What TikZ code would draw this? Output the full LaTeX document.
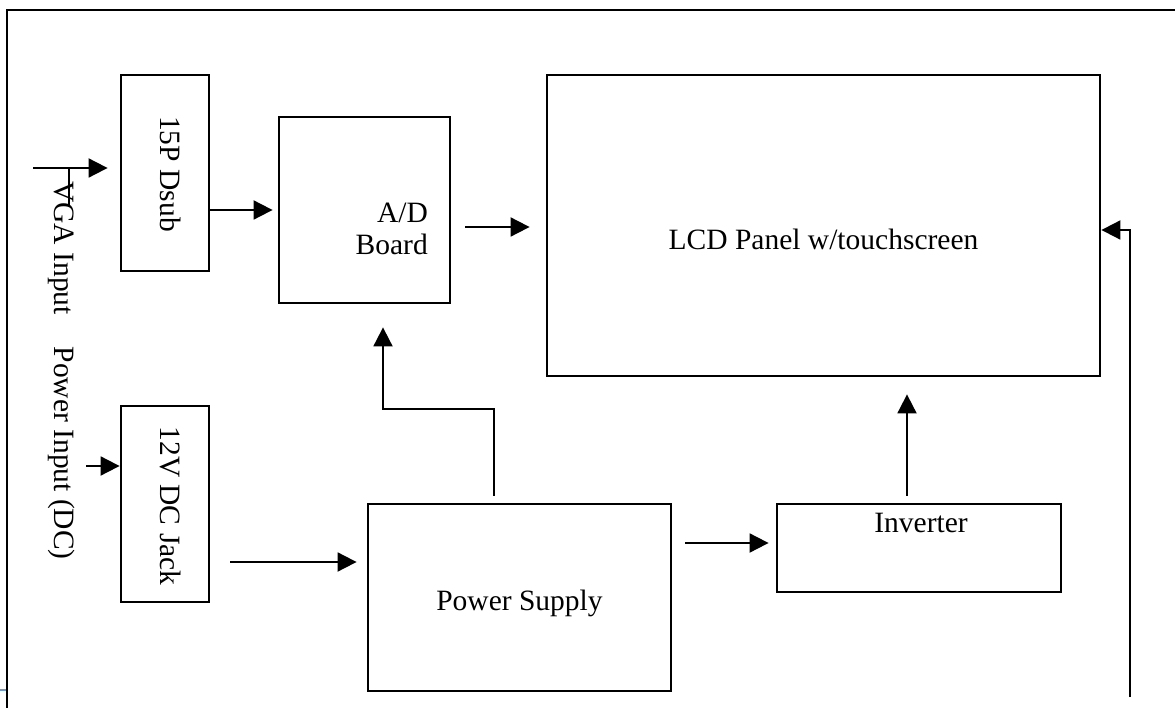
\documentclass[tikz,border=0pt]{standalone}
\usepackage{fontspec}
\setmainfont{Liberation Serif}
\usetikzlibrary{arrows.meta}
\definecolor{tickblue}{RGB}{108,153,204}
\begin{document}
\begin{tikzpicture}[x=1pt,y=-1pt,
  blk/.style={draw=black, line width=2.8pt, rectangle, inner sep=0pt},
  lbl/.style={font=\fontsize{29.5}{32}\selectfont, inner sep=0pt},
  arr/.style={line width=1.9pt, -{Triangle[length=19pt,width=19pt]}},
  wire/.style={line width=1.9pt}]
\useasboundingbox (0,0) rectangle (1175,708);
% frame
\draw[line width=2.8pt] (7,708) -- (7,10) -- (1175,10);
\draw[tickblue, line width=2pt] (0,690) -- (6,690);
% boxes
\node[blk, minimum width=88pt, minimum height=196pt] (dsub) at (165,173) {};
\node[blk, minimum width=88pt, minimum height=196pt] (jack) at (165,504) {};
\node[blk, minimum width=171pt, minimum height=186pt] (ad) at (364.5,210) {};
\node[blk, minimum width=553pt, minimum height=301pt] (lcd) at (823.5,225.5) {};
\node[blk, minimum width=303pt, minimum height=187pt] (ps) at (519.5,597.5) {};
\node[blk, minimum width=284pt, minimum height=88pt] (inv) at (919,548) {};
% labels
\node[lbl, rotate=-90, anchor=base] (dsubt) at (160,174) {15P Dsub};
\node[lbl, rotate=-90, anchor=base] (jackt) at (160,506) {12V DC Jack};
\node[lbl, rotate=-90, anchor=base west] (inputs) at (54,181) {VGA Input\hspace{32pt}Power Input (DC)};
\node[lbl, anchor=base east] (adt1) at (428,223) {A/D};
\node[lbl, anchor=base east] (adt2) at (428,255) {Board};
\node[lbl, anchor=base] (lcdt) at (823.5,250) {LCD Panel w/touchscreen};
\node[lbl, anchor=base] (pst) at (519.5,610) {Power Supply};
\node[lbl, anchor=base] (invt) at (921,532) {Inverter};
% free ends
\coordinate (vgain) at (33,168);
\coordinate (pwrin) at (86,466);
\coordinate (fb) at (1130,697);
% connectors
\draw[arr, shorten >=12pt] (vgain) -- (vgain -| dsub.west);
\draw[wire] (69,168) -- (69,205);
\draw[arr, shorten >=5pt] (dsub.east |- 0,210) -- (ad.west |- 0,210);
\draw[arr, shorten <=14pt, shorten >=16pt] (ad.east |- 0,227) -- (lcd.west |- 0,227);
\draw[arr] (pwrin) -- (pwrin -| jack.west);
\draw[arr, shorten <=20pt, shorten >=10pt] (jack.east |- 0,562) -- (ps.west |- 0,562);
\draw[arr, shorten <=7pt, shorten >=23pt] (ps.north -| 494,0) |- (383,409) -- (ad.south -| 383,0);
\draw[arr, shorten <=13pt, shorten >=7pt] (ps.east |- 0,543) -- (inv.west |- 0,543);
\draw[arr, shorten <=7pt, shorten >=17pt] (inv.north -| 907,0) -- (lcd.south -| 907,0);
\draw[arr] (fb) |- (lcd.east |- 0,230);
\end{tikzpicture}
\end{document}
